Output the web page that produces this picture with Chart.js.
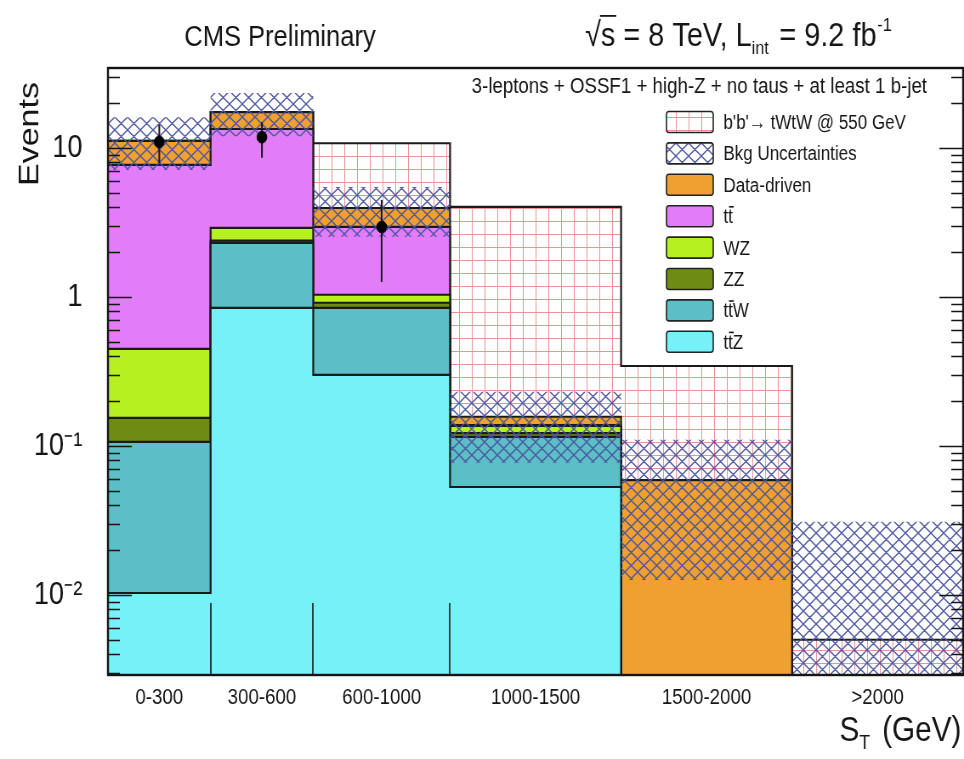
<!DOCTYPE html>
<html lang="en">
<head>
<meta charset="UTF-8" />
<title>CMS Preliminary - S_T, 3 leptons + b-jet</title>
<style>
  html, body { margin: 0; padding: 0; background: #fff; }
</style>
</head>
<body>
<!-- drawn wide and shown narrow: the original has condensed Helvetica-like text -->
<canvas id="chart" width="1134" height="759" style="display:block;width:964px;height:759px"></canvas>
<script src="https://cdn.jsdelivr.net/npm/chart.js@4.4.0/dist/chart.umd.min.js"></script>
<script>
// S_T bins (GeV); the last one is drawn 500 GeV wide
const binLabels = ["0-300", "300-600", "600-1000", "1000-1500", "1500-2000", ">2000"];
const binEdges = [0, 300, 600, 1000, 1500, 2000, 2500];

// background components, bottom of the stack first
const ttZ = [0.0103, 0.844, 0.30, 0.053, 0, 0];
const ttW = [0.096, 1.46, 0.544, 0.062, 0, 0];
const zz = [0.048, 0.08, 0.07, 0.007, 0, 0];
const wz = [0.294, 0.52, 0.12, 0.014, 0, 0];
const ttbar = [7.24, 10.5, 1.92, 0.002, 0, 0];
const dataDriven = [3.45, 4.0, 1.0, 0.019, 0.059, 0];

// b'b' -> tWtW @ 550 GeV, stacked on the background
const signal = [0, 0, 6.8, 3.86, 0.285, 0.005];

// background uncertainty band
const bkgLow = [7.1, 12.0, 2.53, 0.077, 0.0126, 0];
const bkgHigh = [16.1, 23.4, 5.47, 0.231, 0.11, 0.031];

// observed data (bins with zero events are not drawn on the log axis)
const dataBins = [0, 1, 2];
const dataY = [11.0, 11.8, 2.95];
const dataLow = [7.9, 8.6, 1.26];
const dataHigh = [14.3, 14.9, 4.48];

const yTicks = [0.01, 0.1, 1, 10];
const yTickLabels = ["10⁻²", "10⁻¹", "1", "10"];

const Y_MIN = 0.0029, Y_MAX = 34.4;
const FONT = '"Liberation Sans", Arial, Helvetica, sans-serif';
const K = 964 / 1134; // screen px per canvas px, horizontally

const canvas = document.getElementById("chart");
const ctx = canvas.getContext("2d");

function gridPattern() {
  const c = document.createElement("canvas");
  c.width = 15; c.height = 13;
  const g = c.getContext("2d");
  g.fillStyle = "#fff";
  g.fillRect(0, 0, 15, 13);
  g.strokeStyle = "#e99494";
  g.lineWidth = 1;
  g.beginPath();
  g.moveTo(0.5, 0); g.lineTo(0.5, 13);
  g.moveTo(0, 0.5); g.lineTo(15, 0.5);
  g.stroke();
  return ctx.createPattern(c, "repeat");
}

function hatchPattern() {
  const c = document.createElement("canvas");
  c.width = 15; c.height = 13;
  const g = c.getContext("2d");
  g.strokeStyle = "rgba(74,84,158,0.95)";
  g.lineWidth = 1.4;
  g.beginPath();
  for (let dx = -15; dx <= 15; dx += 15) {
    g.moveTo(dx, 0); g.lineTo(dx + 15, 13);
    g.moveTo(dx + 15, 0); g.lineTo(dx, 13);
  }
  g.stroke();
  return ctx.createPattern(c, "repeat");
}

const grid = gridPattern();
const hatch = hatchPattern();

// cumulative stack tops
const layers = [ttZ, ttW, zz, wz, ttbar, dataDriven];
const layerStyle = [
  { label: "t{t}Z", color: "#74f2f8" },
  { label: "t{t}W", color: "#5cbec6" },
  { label: "ZZ", color: "#6e8c14" },
  { label: "WZ", color: "#b6f020" },
  { label: "t{t}", color: "#e27cf8" },
  { label: "Data-driven", color: "#f0a030" }
];
const tops = [];
let run = binLabels.map(() => 0);
layers.forEach(l => {
  run = run.map((v, i) => v + l[i]);
  tops.push(run);
});
const sigTop = run.map((v, i) => v + signal[i]);

// histogram outline as a stepped line over the bin edges
const steps = vals => binEdges.map((x, i) => ({ x, y: Math.max(vals[Math.min(i, vals.length - 1)], Y_MIN) }));

const histLine = (vals, color, fill, order) => ({
  type: "line",
  data: steps(vals),
  stepped: true,
  borderColor: "#1a1a1a",
  borderWidth: 2.2,
  backgroundColor: color,
  fill: fill,
  pointRadius: 0,
  order: order
});

const datasets = [];
// 0..5 background stack
layers.forEach((l, i) => {
  datasets.push(histLine(tops[i], layerStyle[i].color, i === 0 ? "start" : i - 1, 4 + i));
});
// 6 signal on top of the stack
datasets.push(histLine(sigTop, grid, 5, 10));
// 7, 8 uncertainty band
datasets.push({ type: "line", data: steps(bkgLow), stepped: true, borderWidth: 0, borderColor: "transparent", fill: false, pointRadius: 0, order: 3 });
datasets.push({ type: "line", data: steps(bkgHigh), stepped: true, borderWidth: 0, borderColor: "transparent", backgroundColor: hatch, fill: 7, pointRadius: 0, order: 2 });
// 9 data error bars
const errPts = [];
dataBins.forEach((b, i) => {
  const x = (binEdges[b] + binEdges[b + 1]) / 2;
  errPts.push({ x, y: dataLow[i] }, { x, y: dataHigh[i] }, { x, y: null });
});
datasets.push({ type: "line", data: errPts, borderColor: "#181020", borderWidth: 2, spanGaps: false, fill: false, pointRadius: 0, order: 1 });
// 10 data points
datasets.push({
  type: "line",
  data: dataBins.map((b, i) => ({ x: (binEdges[b] + binEdges[b + 1]) / 2, y: dataY[i] })),
  showLine: false,
  pointRadius: 5.8,
  pointBackgroundColor: "#000",
  pointBorderColor: "#000",
  order: 0
});

// text with a bar over the char written as {c}
function drawRich(c, text, x, y, size) {
  c.font = `${size}px ${FONT}`;
  let cx = x;
  text.split(/(\{.\})/).filter(Boolean).forEach(p => {
    const barred = p[0] === "{";
    const s = barred ? p[1] : p;
    c.fillText(s, cx, y);
    const w = c.measureText(s).width;
    if (barred) c.fillRect(cx + 1, y - size * 0.86, w, 1.6);
    cx += w;
  });
}

const legendItems = [
  { label: "b'b'→ tWtW @ 550 GeV", fill: grid },
  { label: "Bkg Uncertainties", fill: hatch },
  ...layerStyle.slice().reverse().map(s => ({ label: s.label, fill: s.color }))
];

const decorations = {
  id: "decorations",
  afterDraw(chart) {
    const c = chart.ctx;
    const a = chart.chartArea;
    const xs = chart.scales.x, ys = chart.scales.y;
    c.save();
    c.strokeStyle = "#151515";
    c.fillStyle = "#151515";

    // inward ticks on both vertical sides
    c.lineWidth = 1.6;
    c.beginPath();
    for (let e = -3; e <= 1; e++) {
      for (let k = 1; k <= 9; k++) {
        const v = k * Math.pow(10, e);
        if (v <= Y_MIN || v >= Y_MAX) continue;
        const py = Math.round(ys.getPixelForValue(v)) + 0.5;
        const len = k === 1 ? 28 : 14;
        c.moveTo(a.left, py); c.lineTo(a.left + len, py);
        c.moveTo(a.right, py); c.lineTo(a.right - len, py);
      }
    }
    // ticks at the bin edges
    binEdges.slice(1, -1).forEach(e => {
      const px = Math.round(xs.getPixelForValue(e));
      c.moveTo(px, a.bottom); c.lineTo(px, a.bottom - 72);
    });
    c.stroke();

    c.lineWidth = 2.4;
    c.strokeRect(a.left, a.top, a.right - a.left, a.bottom - a.top);

    // titles
    c.textBaseline = "alphabetic";
    c.textAlign = "center";
    c.font = `30px ${FONT}`;
    c.fillText("CMS Preliminary", 280 / K, 46);

    // sqrt(s) = 8 TeV, L_int = 9.2 fb^-1
    c.textAlign = "left";
    let x = 585 / K;
    const base = 46;
    c.font = `34px ${FONT}`;
    c.fillText("√", x, base);
    x += c.measureText("√").width;
    const sw = c.measureText("s").width;
    c.fillText("s", x, base);
    c.fillRect(x - 1, base - 31, sw + 2, 1.8);
    x += sw;
    c.fillText(" = 8 TeV, L", x, base);
    x += c.measureText(" = 8 TeV, L").width;
    c.font = `19px ${FONT}`;
    c.fillText("int", x, base + 8);
    x += c.measureText("int").width + 3;
    c.font = `34px ${FONT}`;
    c.fillText(" = 9.2 fb", x, base);
    x += c.measureText(" = 9.2 fb").width;
    c.font = `19px ${FONT}`;
    c.fillText("-1", x + 1, base - 15);

    // selection
    c.textAlign = "right";
    c.font = `22px ${FONT}`;
    c.fillText("3-leptons + OSSF1 + high-Z + no taus + at least 1 b-jet", 927 / K, 93);

    // axis titles
    c.save();
    c.translate(28 / K, 134);
    c.rotate(-Math.PI / 2);
    c.textAlign = "center";
    c.font = `34px ${FONT}`;
    c.fillText("Events", 0, 12);
    c.restore();

    c.textAlign = "left";
    c.font = `35px ${FONT}`;
    const gw = c.measureText("(GeV)").width;
    const xEnd = a.right - 2;
    c.fillText("(GeV)", xEnd - gw, 741);
    c.font = `21px ${FONT}`;
    const tw = c.measureText("T").width;
    c.fillText("T", xEnd - gw - 14 - tw, 749);
    c.font = `35px ${FONT}`;
    const Sw = c.measureText("S").width;
    c.fillText("S", xEnd - gw - 14 - tw - Sw, 741);

    // legend
    legendItems.forEach((it, i) => {
      const cy = 122 + 31.4 * i;
      const bx = 784, bw = 55, bh = 21;
      c.beginPath();
      c.roundRect(bx, cy - bh / 2, bw, bh, 3);
      c.fillStyle = "#fff";
      c.fill();
      c.fillStyle = it.fill;
      c.fill();
      c.lineWidth = 1.6;
      c.strokeStyle = "#222";
      c.stroke();
      c.fillStyle = "#151515";
      c.textAlign = "left";
      drawRich(c, it.label, 851, cy + 7, 20);
    });
    c.restore();
  }
};

new Chart(ctx, {
  type: "line",
  data: { datasets },
  options: {
    responsive: false,
    animation: false,
    devicePixelRatio: 1,
    events: [],
    layout: { autoPadding: false, padding: { top: 68, right: 1, left: 0, bottom: 0 } },
    plugins: { legend: { display: false }, tooltip: { enabled: false } },
    scales: {
      x: {
        type: "linear",
        min: 0,
        max: 2500,
        grid: { display: false },
        border: { display: false },
        afterBuildTicks: s => { s.ticks = binLabels.map((l, i) => ({ value: (binEdges[i] + binEdges[i + 1]) / 2 })); },
        afterFit: s => { s.height = 84; },
        ticks: {
          autoSkip: false,
          maxRotation: 0,
          padding: 2,
          color: "#151515",
          font: { family: FONT, size: 22 },
          callback: (v, i) => binLabels[i]
        }
      },
      y: {
        type: "logarithmic",
        min: Y_MIN,
        max: Y_MAX,
        bounds: "data",
        grid: { display: false },
        border: { display: false },
        afterBuildTicks: s => { s.ticks = yTicks.map(v => ({ value: v })); },
        afterFit: s => { s.width = 127; },
        ticks: {
          autoSkip: false,
          padding: 22,
          color: "#151515",
          font: { family: FONT, size: 32 },
          callback: (v, i) => yTickLabels[i]
        }
      }
    }
  },
  plugins: [decorations]
});
</script>
</body>
</html>
